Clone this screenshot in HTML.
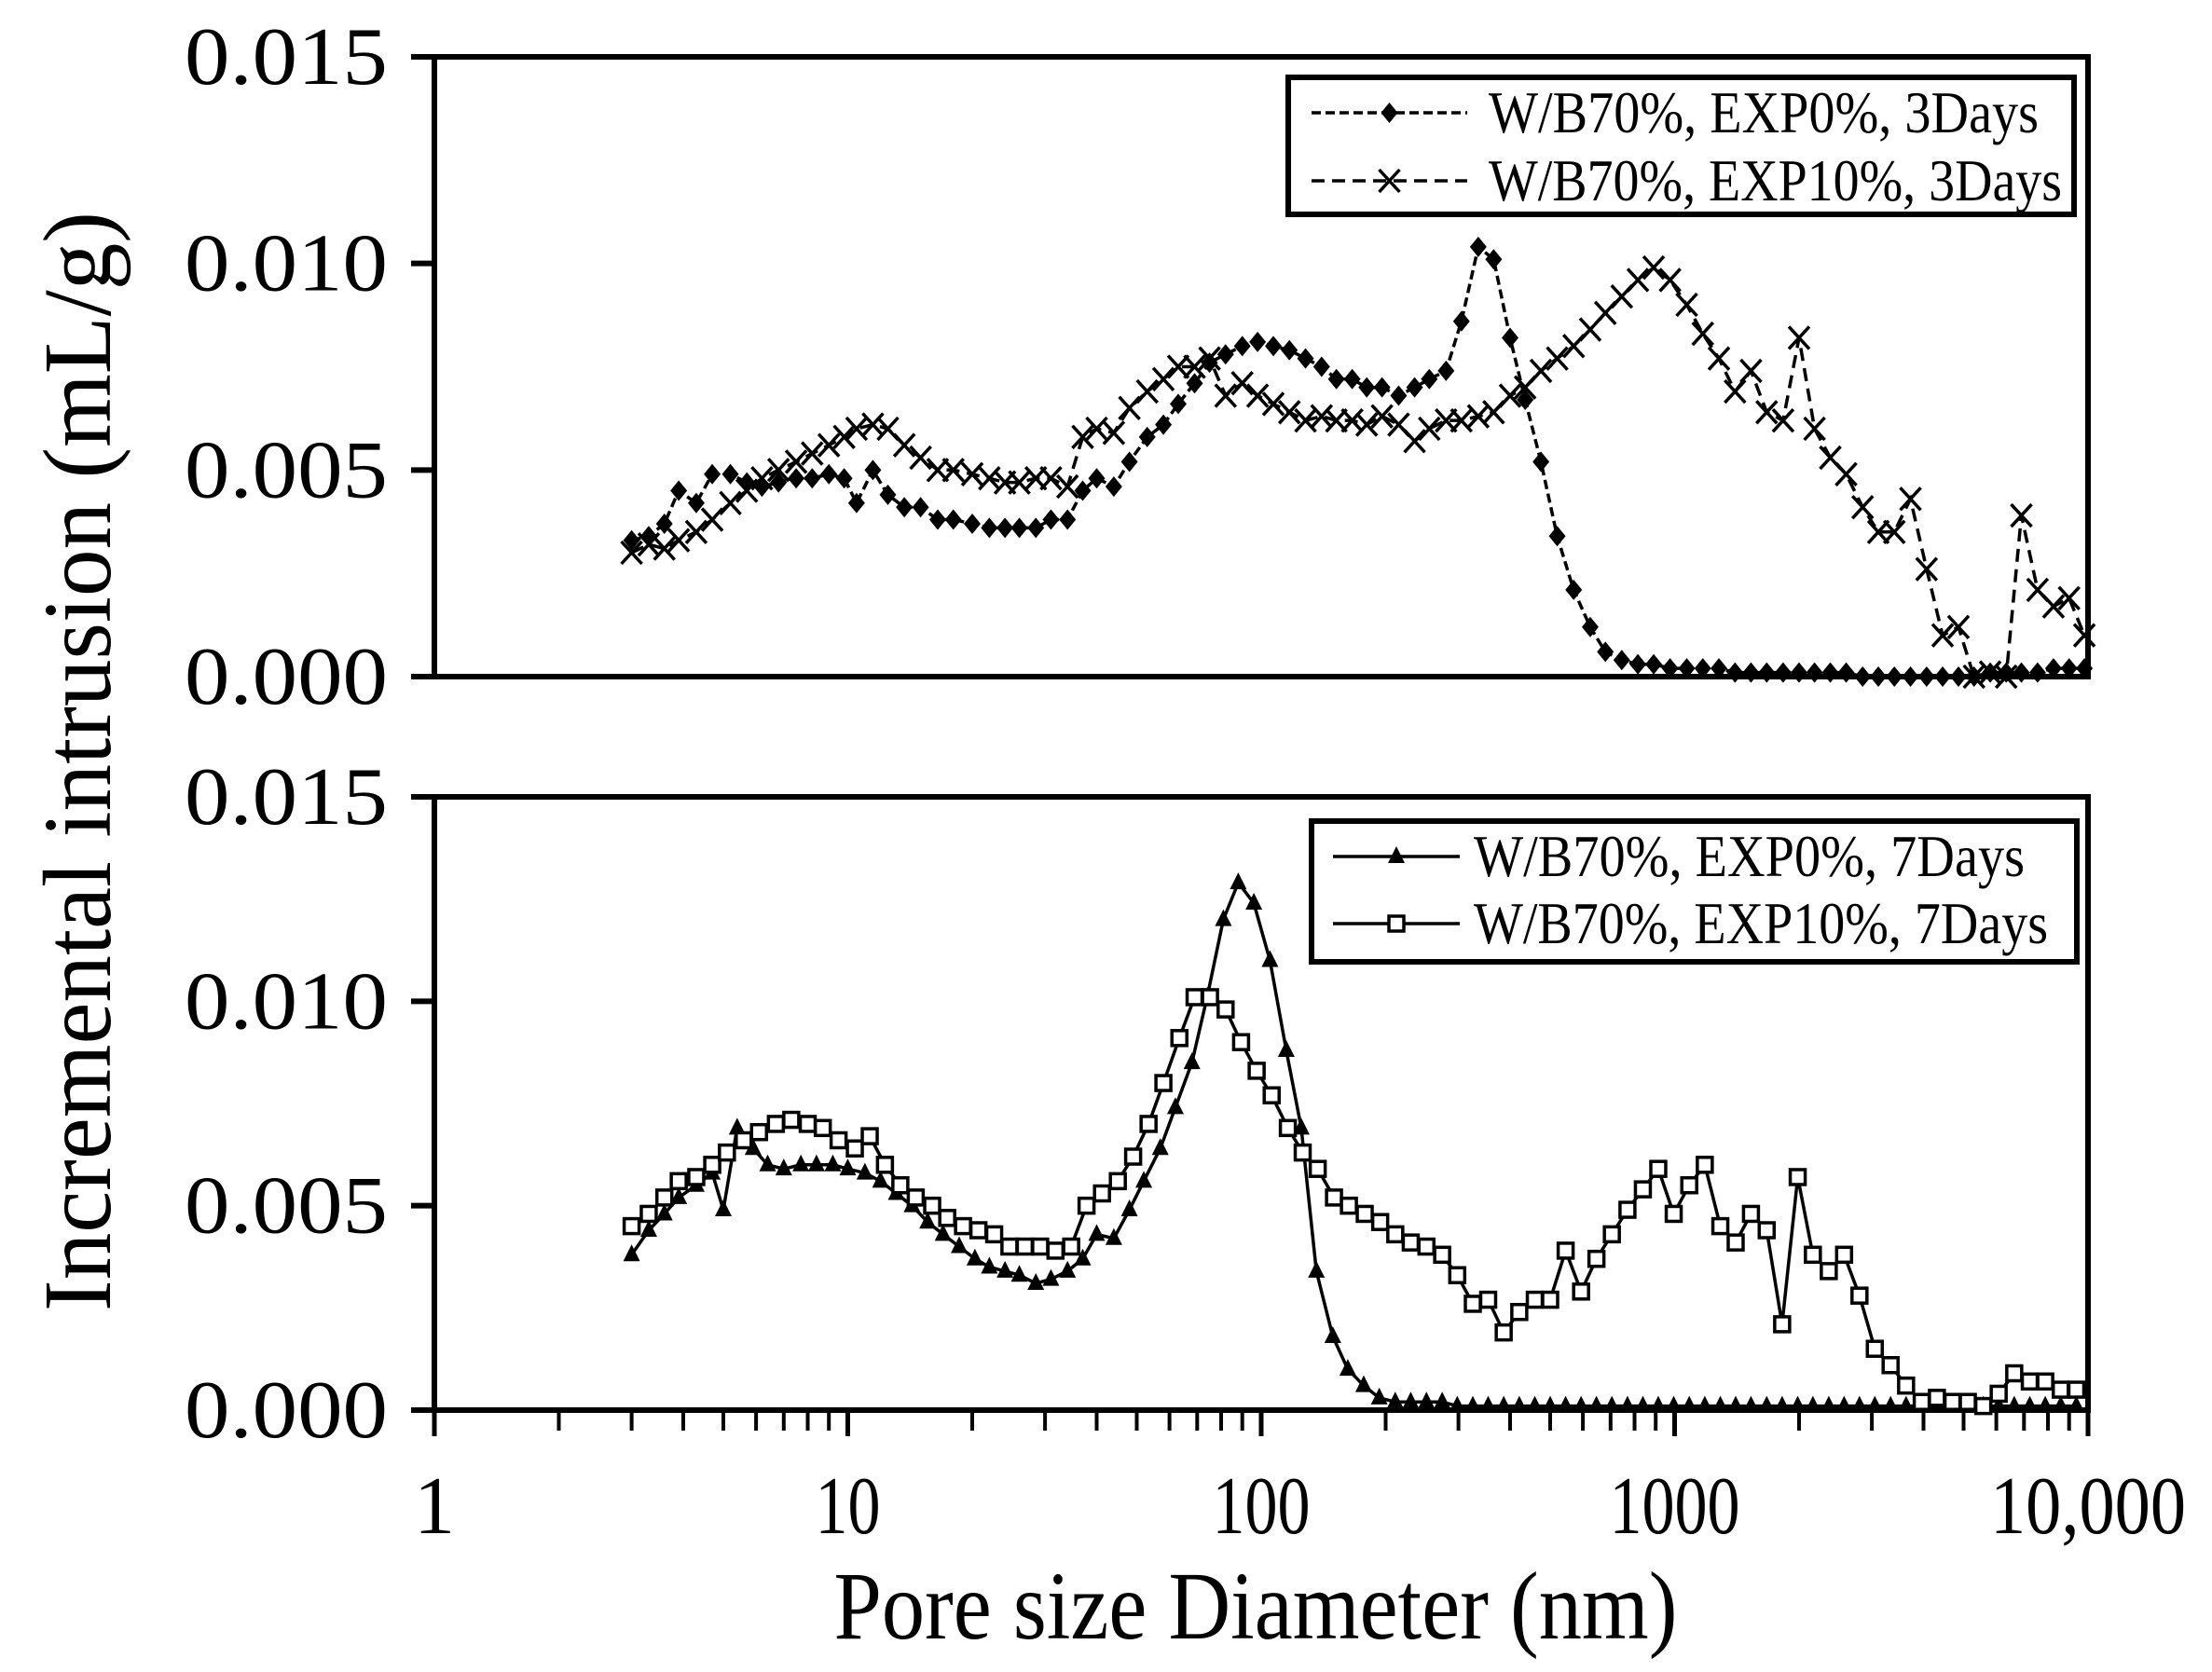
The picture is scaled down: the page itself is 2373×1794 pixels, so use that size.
<!DOCTYPE html>
<html><head><meta charset="utf-8"><style>
html,body{margin:0;padding:0;background:#fff;}
svg{display:block;font-family:"Liberation Serif",serif;}
</style></head><body>
<svg id="chart" width="2373" height="1794" viewBox="0 0 2373 1794" xmlns="http://www.w3.org/2000/svg">
<g id="axes"></g>
<g id="series"></g>
<g id="legends"></g>
</svg>
<script>
// ---- data ----
const xA = [3,3.3,3.6,3.9,4.3,4.7,5.2,5.7,6.2,6.8,7.5,8.2,9.0,9.8,10.5,11.5,12.5,13.7,15,16.5,18,20,22,24,26,28.5,31,34,37,40,44,48,53,58,63,69,75,82,90,98,107,117,128,140,152,166,180,196,215,235,255,280,305,335,365,400,435,475,520,570,625,680,745,815,890,975,1070,1170,1280,1400,1530,1670,1830,2000,2180,2380,2600,2850,3110,3400,3720,4070,4450,4860,5300,5800,6340,6900,7550,8250,9000,9800];
const yA = [0.0033,0.0034,0.0037,0.0045,0.0042,0.0049,0.0049,0.0047,0.0046,0.0047,0.0048,0.0048,0.0049,0.0048,0.0042,0.0050,0.0044,0.0041,0.0041,0.0038,0.0038,0.0037,0.0036,0.0036,0.0036,0.0036,0.0038,0.0038,0.0045,0.0048,0.0046,0.0052,0.0058,0.0061,0.0066,0.0071,0.0076,0.0078,0.0080,0.0081,0.0080,0.0079,0.0077,0.0075,0.0072,0.0072,0.0070,0.0070,0.0068,0.0070,0.0072,0.0074,0.0086,0.0104,0.0101,0.0082,0.0067,0.0052,0.0034,0.0021,0.0012,0.0006,0.0004,0.0003,0.0003,0.0002,0.0002,0.0002,0.0002,0.0001,0.0001,0.0001,0.0001,0.0001,0.0001,0.0001,0.0001,0.0000,0.0000,0.0000,0.0000,0.0000,0.0000,0.0000,0.0000,0.0001,0.0001,0.0001,0.0001,0.0002,0.0002,0.0002];
const xB = [3,3.3,3.6,3.9,4.3,4.7,5.2,5.7,6.2,6.8,7.5,8.2,9.0,9.8,10.5,11.5,12.5,13.7,15,16.5,18,20,22,24,26,28.5,31,34,37,40,44,48,53,58,63,69,75,82,90,98,107,117,128,140,152,166,180,196,215,235,255,280,305,335,365,400,435,475,520,570,625,680,745,815,890,975,1070,1170,1280,1400,1530,1670,1830,2000,2180,2380,2600,2850,3110,3400,3720,4070,4450,4860,5300,5800,6340,6900,7550,8250,9000,9800];
const yB = [0.0030,0.0032,0.0031,0.0033,0.0035,0.0038,0.0042,0.0045,0.0048,0.0050,0.0052,0.0054,0.0056,0.0058,0.0060,0.0061,0.0060,0.0056,0.0053,0.0050,0.0050,0.0049,0.0048,0.0047,0.0047,0.0048,0.0048,0.0046,0.0058,0.0060,0.0059,0.0065,0.0069,0.0072,0.0075,0.0075,0.0077,0.0068,0.0071,0.0068,0.0066,0.0064,0.0062,0.0063,0.0062,0.0062,0.0061,0.0063,0.0061,0.0057,0.0060,0.0062,0.0062,0.0063,0.0064,0.0068,0.0070,0.0074,0.0077,0.0080,0.0084,0.0088,0.0092,0.0096,0.0099,0.0096,0.0090,0.0083,0.0077,0.0069,0.0074,0.0064,0.0062,0.0082,0.0060,0.0053,0.0049,0.0041,0.0035,0.0035,0.0043,0.0026,0.0010,0.0012,0.0000,0.0001,0.0000,0.0039,0.0021,0.0017,0.0019,0.0010];
const xC = [3,3.3,3.6,3.9,4.3,4.7,5.0,5.4,5.9,6.4,7,7.7,8.4,9.2,10,11,12,13.1,14.3,15.6,17,18.6,20.3,22,24,26,28.5,31,34,37,40,44,48,52,57,62,68,74,81,88,96,105,115,125,136,149,162,177,193,211,230,251,274,298,325,354,386,421,459,500,545,594,647,705,769,838,913,995,1085,1183,1290,1405,1530,1670,1820,1985,2160,2360,2570,2800,3050,3330,3630,3960,4310,4700,5120,5580,6080,6630,7230,7880,8590,9370];
const yC = [0.0038,0.0044,0.0048,0.0052,0.0055,0.0058,0.0049,0.0069,0.0064,0.0060,0.0059,0.0060,0.0060,0.0060,0.0059,0.0058,0.0056,0.0053,0.0050,0.0046,0.0043,0.0040,0.0037,0.0035,0.0034,0.0033,0.0031,0.0032,0.0034,0.0037,0.0043,0.0042,0.0049,0.0056,0.0064,0.0074,0.0085,0.0101,0.0120,0.0129,0.0124,0.0110,0.0088,0.0069,0.0034,0.0018,0.0010,0.0006,0.0003,0.0002,0.0002,0.0002,0.0002,0.0001,0.0001,0.0001,0.0001,0.0001,0.0001,0.0001,0.0001,0.0001,0.0001,0.0001,0.0001,0.0001,0.0001,0.0001,0.0001,0.0001,0.0001,0.0001,0.0001,0.0001,0.0001,0.0001,0.0001,0.0001,0.0001,0.0001,0.0001,0.0001,0.0001,0.0001,0.0001,0.0001,0.0001,0.0001,0.0001,0.0001,0.0001,0.0001,0.0001,0.0001];
const xD = [3,3.3,3.6,3.9,4.3,4.7,5.1,5.6,6.1,6.7,7.3,8,8.7,9.5,10.4,11.3,12.3,13.4,14.6,16,17.4,19,20.7,22.6,24.6,26.8,29.2,31.8,34.7,37.8,41.2,45,49,53.4,58,63.4,69,75.2,82,89.4,97.5,106,116,126,137,150,163,178,194,211,230,251,274,298,325,354,386,421,459,500,545,594,647,705,769,838,913,995,1085,1183,1290,1405,1530,1670,1820,1985,2160,2360,2570,2800,3050,3330,3630,3960,4310,4700,5120,5580,6080,6630,7230,7880,8590,9370];
const yD = [0.0045,0.0048,0.0052,0.0056,0.0057,0.0060,0.0063,0.0066,0.0068,0.0070,0.0071,0.0070,0.0069,0.0066,0.0064,0.0067,0.0060,0.0055,0.0052,0.0050,0.0047,0.0045,0.0044,0.0043,0.0040,0.0040,0.0040,0.0039,0.0040,0.0050,0.0053,0.0056,0.0062,0.0070,0.0080,0.0091,0.0101,0.0101,0.0098,0.0090,0.0083,0.0077,0.0069,0.0063,0.0059,0.0052,0.0050,0.0048,0.0046,0.0043,0.0041,0.0040,0.0038,0.0033,0.0026,0.0027,0.0019,0.0024,0.0027,0.0027,0.0039,0.0029,0.0037,0.0043,0.0049,0.0054,0.0059,0.0048,0.0055,0.0060,0.0045,0.0041,0.0048,0.0044,0.0021,0.0057,0.0038,0.0034,0.0038,0.0028,0.0015,0.0011,0.0006,0.0002,0.0003,0.0002,0.0002,0.0001,0.0004,0.0009,0.0007,0.0007,0.0005,0.0005];
const yTicks = [0, 0.005, 0.010, 0.015];
const yTickLabels = ["0.000","0.005","0.010","0.015"];
const xTicks = [1, 10, 100, 1000, 10000];
const xTickLabels = ["1","10","100","1000","10,000"];

// ---- layout ----
const NS = "http://www.w3.org/2000/svg";
const L = 466, R = 2240;
const panels = [{top:61, bot:726}, {top:855, bot:1513}];
const xs = v => L + (Math.log10(v) - 0) / 4 * (R - L);
const ysF = p => v => p.bot - v / 0.015 * (p.bot - p.top);

function mk(tag, attrs, parent) {
  const e = document.createElementNS(NS, tag);
  for (const k in attrs) e.setAttribute(k, attrs[k]);
  parent.appendChild(e);
  return e;
}
const axes = document.getElementById('axes');
const series = document.getElementById('series');
const legends = document.getElementById('legends');

panels.forEach((p, pi) => {
  const box = mk('rect', {x:L, y:p.top, width:R-L, height:p.bot-p.top, fill:'none', stroke:'#000', 'stroke-width':6}, axes);
  
  
  const ys = ysF(p);
  yTicks.forEach((t, i) => {
    const tk = mk('line', {x1:L-25, x2:L, y1:ys(t), y2:ys(t), stroke:'#000', 'stroke-width':6}, axes);
    
    
    const tx = mk('text', {x:416, y:ys(t)+29, 'text-anchor':'end', 'font-size':88, textLength:218, lengthAdjust:'spacingAndGlyphs'}, axes);
    tx.textContent = yTickLabels[i];
    
    
  });
});
const pb = panels[1];
for (let d = 0; d < 4; d++) {
  for (let m = 1; m <= 10; m++) {
    const v = Math.pow(10, d) * m;
    if (m === 10 && d < 3) continue;
    const major = (m === 1 || m === 10);
    const tk = mk('line', {x1:xs(v), x2:xs(v), y1:pb.bot, y2:pb.bot + (major ? 28 : 22), stroke:'#000', 'stroke-width':major ? 5 : 4}, axes);
    
    
  }
}
xTicks.forEach((t, i) => {
  const tl = xTickLabels[i];
  const tx = mk('text', {x:xs(t), y:1645, 'text-anchor':'middle', 'font-size':88}, axes);
  if (tl.length > 1) { tx.setAttribute('textLength', tl.length * 35); tx.setAttribute('lengthAdjust', 'spacingAndGlyphs'); }
  tx.textContent = tl;
  
  
});
const xt = mk('text', {x:1347, y:1758, 'text-anchor':'middle', 'font-size':104, textLength:905, lengthAdjust:'spacingAndGlyphs'}, axes);
xt.textContent = 'Pore size Diameter (nm)';


const yt = mk('text', {x:0, y:0, 'text-anchor':'middle', 'font-size':104, textLength:1180, lengthAdjust:'spacingAndGlyphs', transform:'translate(118,817) rotate(-90)'}, axes);
yt.textContent = 'Incremental  intrusion  (mL/g)';



function marker(kind, x, y, g) {
  let e;
  if (kind === 'diamond') e = mk('polygon', {points:`${x},${y-11} ${x+9},${y} ${x},${y+11} ${x-9},${y}`, fill:'#000'}, g);
  else if (kind === 'cross') e = mk('path', {d:`M${x-11},${y-12}L${x+11},${y+12}M${x+11},${y-12}L${x-11},${y+12}`, stroke:'#000', 'stroke-width':3.5, fill:'none'}, g);
  else if (kind === 'triangle') e = mk('polygon', {points:`${x},${y-11} ${x+9},${y+7} ${x-9},${y+7}`, fill:'#000'}, g);
  else e = mk('rect', {x:x-8, y:y-8, width:16, height:16, fill:'#fff', stroke:'#000', 'stroke-width':3.5}, g);
  return e;
}
function drawSeries(xv, yv, p, kind, dash, name) {
  const ys = ysF(p);
  const g = mk('g', {}, series);
  
  
  const pts = xv.map((x, i) => `${xs(x).toFixed(1)},${ys(yv[i]).toFixed(1)}`).join(' ');
  const ln = mk('polyline', {points:pts, fill:'none', stroke:'#000', 'stroke-width':3.5, 'stroke-dasharray':dash}, g);
  
  
  xv.forEach((x, i) => {
    const m = marker(kind, xs(x), ys(yv[i]), g);
    
    
  });
}
drawSeries(xA, yA, panels[0], 'diamond', '10 5', 'series-exp0-3days');
drawSeries(xB, yB, panels[0], 'cross', '14 8', 'series-exp10-3days');
drawSeries(xC, yC, panels[1], 'triangle', 'none', 'series-exp0-7days');
drawSeries(xD, yD, panels[1], 'square', 'none', 'series-exp10-7days');

function legend(bx, by, bw, bh, rows, name) {
  const g = mk('g', {}, legends);
  
  
  const r = mk('rect', {x:bx, y:by, width:bw, height:bh, fill:'#fff', stroke:'#000', 'stroke-width':6}, g);
  
  
  rows.forEach(row => {
    const ln = mk('line', {x1:row.x1, x2:row.x2, y1:row.y, y2:row.y, stroke:'#000', 'stroke-width':3.5, 'stroke-dasharray':row.dash}, g);
    
    
    const m = marker(row.kind, (row.x1 + row.x2) / 2, row.y, g);
    
    
    const t = mk('text', {x:row.tx, y:row.y + 21, 'font-size':64, textLength:row.tw, lengthAdjust:'spacingAndGlyphs'}, g);
    t.textContent = row.label;
    
    
  });
}
legend(1382, 83, 843, 147, [
  {x1:1407, x2:1574, y:121, dash:'10 5', kind:'diamond', tx:1597, tw:590, label:'W/B70%, EXP0%, 3Days'},
  {x1:1407, x2:1574, y:194, dash:'14 8', kind:'cross', tx:1597, tw:615, label:'W/B70%, EXP10%, 3Days'}
], 'legend-top');
legend(1407, 881, 821, 151, [
  {x1:1430, x2:1566, y:919, dash:'none', kind:'triangle', tx:1581, tw:591, label:'W/B70%, EXP0%, 7Days'},
  {x1:1430, x2:1566, y:991, dash:'none', kind:'square', tx:1581, tw:616, label:'W/B70%, EXP10%, 7Days'}
], 'legend-bottom');
</script>
</body></html>
